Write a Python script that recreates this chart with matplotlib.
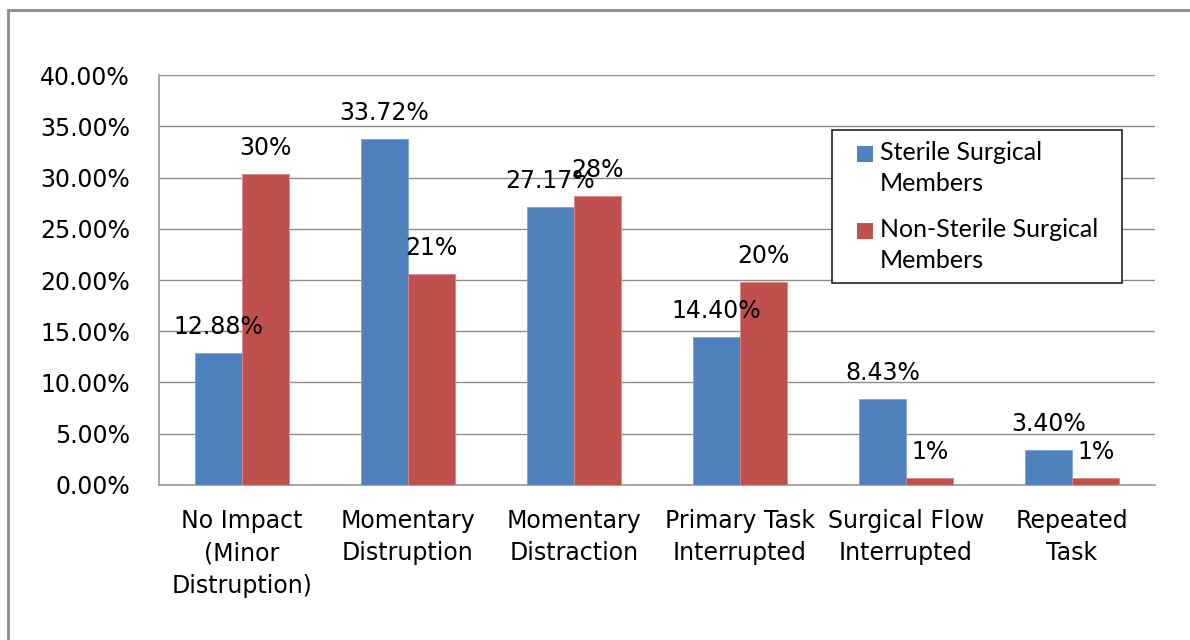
import numpy as np
import matplotlib
matplotlib.use("Agg")
from matplotlib import pyplot as plt
from matplotlib.patches import Rectangle
from matplotlib.legend_handler import HandlerPatch

categories = ["No Impact\n(Minor\nDistruption)", "Momentary\nDistruption", "Momentary\nDistraction",
              "Primary Task\nInterrupted", "Surgical Flow\nInterrupted", "Repeated\nTask"]
sterile = [12.88, 33.72, 27.17, 14.40, 8.43, 3.40]
non_sterile = [30.3, 20.6, 28.2, 19.8, 0.7, 0.7]
series_names = ["Sterile Surgical\nMembers", "Non-Sterile Surgical\nMembers"]
yticks = [0, 5, 10, 15, 20, 25, 30, 35, 40]

blue = "#4F81BD"
red = "#C0504D"
fs = 17
leg_fs = 18
leg_ls = 1.39


class HandlerTop(HandlerPatch):
    # square at the right end of the handle box, next to the first label line
    def create_artists(self, legend, orig_handle, xdescent, ydescent,
                       width, height, fontsize, trans):
        size = fontsize * 0.64
        p = Rectangle((-xdescent + width - size,
                       -ydescent + fontsize * 0.6 + (height - size) / 2),
                      size, size, facecolor=orig_handle.get_facecolor(),
                      edgecolor="none", transform=trans)
        return [p]


fig = plt.figure(figsize=(11.9, 6.4), dpi=100)
ax = fig.add_axes([0.1336, 0.2422, 0.837, 0.6406])

x = np.arange(len(categories))
w = 0.285
b1 = ax.bar(x - w / 2, sterile, w, color=blue, edgecolor="#7da3d3", linewidth=0.6,
            label=series_names[0], zorder=3)
b2 = ax.bar(x + w / 2, non_sterile, w, color=red, edgecolor="#d58a88", linewidth=0.6,
            label=series_names[1], zorder=3)

for xi, v in zip(x - w / 2, sterile):
    ax.annotate("%.2f%%" % v, (xi, v), xytext=(0, 26), textcoords="offset pixels",
                ha="center", va="center", fontsize=fs, zorder=5)
for xi, v in zip(x + w / 2, non_sterile):
    ax.annotate("%.0f%%" % v, (xi, v), xytext=(0, 26), textcoords="offset pixels",
                ha="center", va="center", fontsize=fs, zorder=5)

ax.set_xlim(-0.5, len(categories) - 0.5)
ax.set_ylim(0, 40)
ax.set_yticks(yticks)
ax.set_yticklabels(["%.2f%%" % t for t in yticks], fontsize=fs)
ax.set_xticks(x)
ax.set_xticklabels(categories, fontsize=fs, linespacing=1.45)
ax.tick_params(axis="y", length=0, pad=21)
ax.tick_params(axis="x", length=0, pad=17)
ax.yaxis.grid(True, color="#8c8c8c", linewidth=1.0, zorder=0)
ax.set_axisbelow(True)
for s in ["top", "right"]:
    ax.spines[s].set_visible(False)
for s in ["left", "bottom"]:
    ax.spines[s].set_color("#9a9a9a")
    ax.spines[s].set_linewidth(1.2)

leg = fig.legend(handles=[b1.patches[0], b2.patches[0]], labels=series_names, loc="upper left",
                 bbox_to_anchor=(832 / 1190, 1 - 283 / 640, 290 / 1190, 153 / 640),
                 bbox_transform=fig.transFigure, mode="expand",
                 prop={"family": "Lato", "size": leg_fs}, fancybox=False,
                 edgecolor="#222222", framealpha=1, borderpad=0.45,
                 labelspacing=0.95, handletextpad=0.28, handlelength=1.2,
                 borderaxespad=0, handler_map={Rectangle: HandlerTop()})
leg.get_frame().set_linewidth(1.2)
for t in leg.get_texts():
    t.set_linespacing(leg_ls)

# outer chart border (clipped on right and bottom)
fig.add_artist(Rectangle((8 / 1190, -0.2), 1.2, 0.2 + (1 - 10 / 640),
                         transform=fig.transFigure, fill=False,
                         edgecolor="#8a8a8a", linewidth=2))

fig.savefig("out.png", dpi=100, facecolor="white")
